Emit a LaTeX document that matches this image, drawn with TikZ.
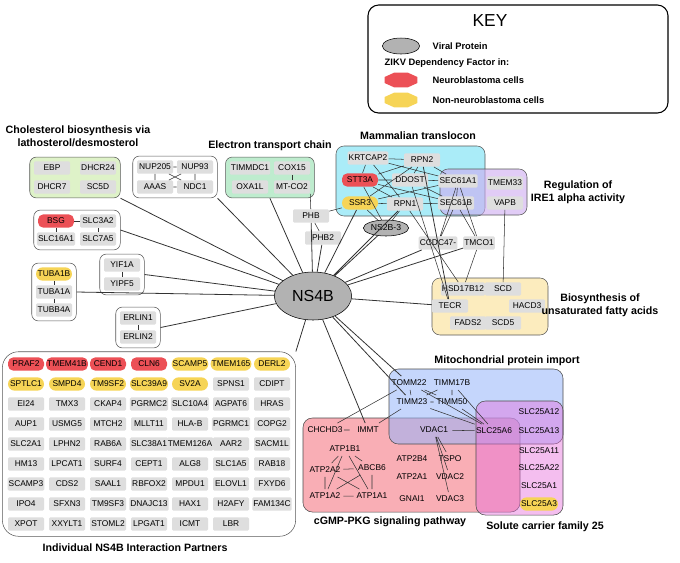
\documentclass[tikz,border=0pt]{standalone}
\usepackage{fontspec}
\setmainfont{Liberation Sans}
\usetikzlibrary{shapes.geometric,fit,backgrounds}
\definecolor{gfill}{RGB}{222,222,222}
\definecolor{vred}{RGB}{236,80,86}
\definecolor{vyel}{RGB}{246,212,86}
\definecolor{chol}{RGB}{222,242,200}
\definecolor{etc}{RGB}{190,236,206}
\definecolor{tloc}{RGB}{170,236,248}
\definecolor{ire}{RGB}{205,170,240}
\definecolor{fat}{RGB}{252,236,190}
\definecolor{mito}{RGB}{150,180,250}
\definecolor{cgmp}{RGB}{246,140,150}
\definecolor{slc}{RGB}{230,110,220}
\tikzset{
  gn/.style={fill=gfill,rounded corners=1pt,minimum width=27pt,minimum height=10pt,inner sep=0.8pt,font=\fontsize{6.3}{7}\selectfont},
  gred/.style={gn,fill=vred,rounded corners=4pt},
  gyel/.style={gn,fill=vyel,rounded corners=5pt},
  grp/.style={draw=gray!70!black,rounded corners=5pt,inner sep=3pt},
  ttl/.style={font=\bfseries\fontsize{8}{9.5}\selectfont,align=center},
  ed/.style={draw=black!80,thin},
  es/.style={draw=black!80,line width=0.6pt}
}
\begin{document}
\begin{tikzpicture}[x=0.75pt,y=-0.75pt]
\useasboundingbox (0,0) rectangle (680,562);
% key
\draw[rounded corners=8pt,thick] (368,5) rectangle (668,113);
\node[font=\fontsize{13}{14}\selectfont] (kt) at (490,21) {KEY};
\node[ellipse,draw,fill=gray!60,minimum width=28pt,minimum height=12pt] (kv) at (401,46) {};
\node[anchor=west,font=\bfseries\fontsize{7}{8}\selectfont] (kvt) at (428,46) {Viral Protein};
\node[anchor=west,font=\bfseries\fontsize{7}{8}\selectfont] (kz) at (380,63) {ZIKV Dependency Factor in:};
\node[regular polygon,regular polygon sides=8,fill=vred,minimum size=12pt,xscale=2.2,inner sep=0pt] (kr) at (401,80) {};
\node[anchor=west,font=\bfseries\fontsize{7}{8}\selectfont] (krt) at (428,80) {Neuroblastoma cells};
\node[regular polygon,regular polygon sides=8,fill=vyel,minimum size=12pt,xscale=2.2,inner sep=0pt] (ky) at (401,100) {};
\node[anchor=west,font=\bfseries\fontsize{7}{8}\selectfont] (kyt) at (428,100) {Non-neuroblastoma cells};

% NS4B
\node[ellipse,draw,fill=gray!60,minimum width=58pt,minimum height=36pt,font=\fontsize{12}{13}\selectfont] (ns4b) at (313,296) {NS4B};

% cholesterol
\node[ttl] (tchol) at (78,136) {Cholesterol biosynthesis via\\lathosterol/desmosterol};
\node[gn] (EBP) at (52,168) {EBP};
\node[gn] (DHCR24) at (98,168) {DHCR24};
\node[gn] (DHCR7) at (52,187) {DHCR7};
\node[gn] (SC5D) at (98,187) {SC5D};
\begin{scope}[on background layer]
\node[grp,fill=chol,fit=(EBP)(SC5D)] (bchol) {};
\end{scope}
% NUP
\node[gn] (NUP205) at (155,167) {NUP205};
\node[gn] (NUP93) at (195,167) {NUP93};
\node[gn] (AAAS) at (155,187) {AAAS};
\node[gn] (NDC1) at (195,187) {NDC1};
\begin{scope}[on background layer]
\node[grp,fill=white,fit=(NUP205)(NDC1)] (bnup) {};
\end{scope}
\draw[ed] (NUP205)--(NUP93) (NUP205)--(AAAS) (NUP93)--(NDC1) (AAAS)--(NDC1) (NUP205)--(NDC1) (NUP93)--(AAAS);
% electron transport
\node[ttl] (tetc) at (270,146) {Electron transport chain};
\node[gn] (TIMMDC1) at (250,168) {TIMMDC1};
\node[gn] (COX15) at (292,168) {COX15};
\node[gn] (OXA1L) at (250,187) {OXA1L};
\node[gn] (MT-CO2) at (292,187) {MT-CO2};
\begin{scope}[on background layer]
\node[grp,fill=etc,fit=(TIMMDC1)(MT-CO2)] (betc) {};
\end{scope}
\draw[ed] (COX15)--(MT-CO2);
\node[gn] (PHB) at (311,216) {PHB};
\node[gn] (PHB2) at (323,238) {PHB2};
\draw[ed] (MT-CO2.south east)--(PHB) (PHB)--(PHB2);
% BSG
\node[gred] (BSG) at (56,221) {BSG};
\node[gn] (SLC3A2) at (98,221) {SLC3A2};
\node[gn] (SLC16A1) at (56,239) {SLC16A1};
\node[gn] (SLC7A5) at (98,239) {SLC7A5};
\begin{scope}[on background layer]
\node[grp,fill=white,fit=(BSG)(SLC7A5)] (bbsg) {};
\end{scope}
\draw[ed] (BSG)--(SLC3A2) (BSG)--(SLC16A1) (SLC3A2)--(SLC7A5);
% YIF1A
\node[gn] (YIF1A) at (122,265) {YIF1A};
\node[gn] (YIPF5) at (122,284) {YIPF5};
\begin{scope}[on background layer]
\node[grp,fill=white,fit=(YIF1A)(YIPF5)] (byif) {};
\end{scope}
\draw[ed] (YIF1A)--(YIPF5);
% TUBA
\node[gyel] (TUBA1B) at (54,274) {TUBA1B};
\node[gn] (TUBA1A) at (54,292) {TUBA1A};
\node[gn] (TUBB4A) at (54,310) {TUBB4A};
\begin{scope}[on background layer]
\node[grp,fill=white,fit=(TUBA1B)(TUBB4A)] (btub) {};
\end{scope}
\draw[ed] (TUBA1B)--(TUBA1A)--(TUBB4A);
% ERLIN
\node[gn] (ERLIN1) at (138,318) {ERLIN1};
\node[gn] (ERLIN2) at (138,337) {ERLIN2};
\begin{scope}[on background layer]
\node[grp,fill=white,fit=(ERLIN1)(ERLIN2)] (berl) {};
\end{scope}
\draw[ed] (ERLIN1)--(ERLIN2);

% individual partners
\foreach \t [count=\i from 0] in {PRAF2,TMEM41B,CEND1,CLN6}
  \node[gred] (ip\i) at (26+41*\i,364) {\t};
\foreach \t [count=\i from 4] in {SCAMP5,TMEM165,DERL2}
  \node[gyel] (ip\i) at (26+41*\i,364) {\t};
\foreach \t [count=\i from 0] in {SPTLC1,SMPD4,TM9SF2,SLC39A9,SV2A}
  \node[gyel] (iq\i) at (26+41*\i,384) {\t};
\node[gn] (SPNS1) at (231,384) {SPNS1};
\node[gn] (CDIPT) at (272,384) {CDIPT};
\foreach \row [count=\j from 0] in {
  {EI24,TMX3,CKAP4,PGRMC2,SLC10A4,AGPAT6,HRAS},
  {AUP1,USMG5,MTCH2,MLLT11,HLA-B,PGRMC1,COPG2},
  {SLC2A1,LPHN2,RAB6A,SLC38A1,TMEM126A,AAR2,SACM1L},
  {HM13,LPCAT1,SURF4,CEPT1,ALG8,SLC1A5,RAB18},
  {SCAMP3,CDS2,SAAL1,RBFOX2,MPDU1,ELOVL1,FXYD6},
  {IPO4,SFXN3,TM9SF3,DNAJC13,HAX1,H2AFY,FAM134C},
  {XPOT,XXYLT1,STOML2,LPGAT1,ICMT,LBR}}
  \foreach \t [count=\i from 0] in \row
    \node[gn] (in-\j-\i) at (26+41*\i,404+20*\j) {\t};
\begin{scope}[on background layer]
\node[grp,fill=white,rounded corners=12pt,fit=(ip0)(in-6-0)(ip6),inner sep=4pt] (bind) {};
\end{scope}
\node[ttl] (tind) at (135,548) {Individual NS4B Interaction Partners};

% translocon / IRE1
\node[ttl] (ttloc) at (418,136) {Mammalian translocon};
\node[gn] (KRTCAP2) at (368,158) {KRTCAP2};
\node[gn] (RPN2) at (422,160) {RPN2};
\node[gred] (STT3A) at (360,180) {STT3A};
\node[gn] (DDOST) at (410,180) {DDOST};
\node[gn] (SEC61A1) at (458,181) {SEC61A1};
\node[gyel] (SSR3) at (360,203) {SSR3};
\node[gn] (RPN1) at (405,204) {RPN1};
\node[gn] (SEC61B) at (456,203) {SEC61B};
\node[gn] (TMEM33) at (505,183) {TMEM33};
\node[gn] (VAPB) at (505,203) {VAPB};
\node[ttl] (tire) at (578,192) {Regulation of\\IRE1 alpha activity};
\begin{scope}[on background layer]
\fill[tloc,rounded corners=6pt,draw=gray!70!black] (336,146) rectangle (485,216);
\fill[ire,fill opacity=0.6,rounded corners=6pt,draw=gray!70!black] (440,169) rectangle (527,215);
\end{scope}
\node[ellipse,draw,fill=gray!60,minimum width=34pt,minimum height=12pt,inner sep=0pt,font=\fontsize{6.5}{7}\selectfont] (NS2B-3) at (386,228) {NS2B-3};
\node[gn,minimum width=0pt,fill=gfill] (CCDC47) at (438,243) {CCDC47-};
\node[gn,minimum width=0pt] (TMCO1) at (479,243) {TMCO1};
\draw[ed] (KRTCAP2)--(RPN2) (KRTCAP2)--(STT3A) (KRTCAP2)--(SEC61A1) (KRTCAP2)--(RPN1)
  (RPN2)--(STT3A) (RPN2)--(DDOST) (RPN2)--(SEC61A1) (RPN2)--(SSR3)
  (STT3A)--(DDOST) (STT3A)--(SEC61B) (STT3A)--(RPN1) (DDOST)--(SEC61A1) (DDOST)--(SEC61B)
  (SSR3)--(RPN1) (SSR3)--(SEC61A1) (RPN1)--(SEC61B) (SSR3)--(NS2B-3) (STT3A)--(NS2B-3)
  (RPN1)--(NS2B-3) (SEC61A1)--(SEC61B) (SEC61A1)--(CCDC47) (SEC61B)--(CCDC47)
  (SEC61A1)--(TMCO1) (SEC61B)--(TMCO1) (SSR3)--(PHB);
% fatty acids
\node[gn] (HSD17B12) at (463,289) {HSD17B12};
\node[gn] (SCD) at (503,289) {SCD};
\node[gn] (TECR) at (450,306) {TECR};
\node[gn] (HACD3) at (527,306) {HACD3};
\node[gn] (FADS2) at (468,323) {FADS2};
\node[gn] (SCD5) at (503,323) {SCD5};
\begin{scope}[on background layer]
\fill[fat,rounded corners=6pt,draw=gray!70!black] (432,278) rectangle (548,335);
\end{scope}
\node[ttl] (tfat) at (600,305) {Biosynthesis of\\unsaturated fatty acids};
\draw[ed] (TMCO1)--(HSD17B12) (VAPB)--(SCD) (DDOST)--(TECR) (RPN1)--(HSD17B12);
\draw[es] (RPN2)--(TECR);

% mito / cGMP / SLC25
\node[ttl] (tmito) at (507,361) {Mitochondrial protein import};
\node[ttl] (tcgmp) at (390,522) {cGMP-PKG signaling pathway};
\node[ttl] (tslc) at (545,527) {Solute carrier family 25};
\begin{scope}[on background layer]
\fill[cgmp,fill opacity=0.7,rounded corners=7pt,draw=gray!60!black] (303,418) rectangle (520,512);
\fill[mito,fill opacity=0.55,rounded corners=7pt,draw=gray!60!black] (389,369) rectangle (563,444);
\fill[slc,fill opacity=0.45,rounded corners=7pt,draw=gray!60!black] (476,401) rectangle (563,515);
\end{scope}
\node[gn,fill=none] (TOMM22) at (409,383) {TOMM22};
\node[gn,fill=none] (TIMM17B) at (452,383) {TIMM17B};
\node[gn,fill=none] (TIMM23) at (412,402) {TIMM23};
\node[gn,fill=none] (TIMM50) at (452,402) {TIMM50};
\node[gn,fill=none] (VDAC1) at (434,430) {VDAC1};
\node[gn,fill=none] (SLC25A6) at (494,431) {SLC25A6};
\node[gn,fill=none] (CHCHD3) at (325,430) {CHCHD3};
\node[gn,fill=none] (IMMT) at (368,430) {IMMT};
\node[gn,fill=none] (ATP1B1) at (345,449) {ATP1B1};
\node[gn,fill=none] (ATP2A2) at (325,470) {ATP2A2};
\node[gn,fill=none] (ABCB6) at (372,468) {ABCB6};
\node[gn,fill=none] (ATP1A2) at (325,496) {ATP1A2};
\node[gn,fill=none] (ATP1A1) at (372,496) {ATP1A1};
\node[gn,fill=none] (ATP2B4) at (412,459) {ATP2B4};
\node[gn,fill=none] (ATP2A1) at (412,477) {ATP2A1};
\node[gn,fill=none] (GNAI1) at (412,499) {GNAI1};
\node[gn,fill=none] (TSPO) at (450,459) {TSPO};
\node[gn,fill=none] (VDAC2) at (450,477) {VDAC2};
\node[gn,fill=none] (VDAC3) at (450,499) {VDAC3};
\foreach \t/\yy in {SLC25A12/412,SLC25A13/431,SLC25A11/451,SLC25A22/468,SLC25A1/486}
  \node[gn,fill=none] (\t) at (539,\yy) {\t};
\node[gyel] (SLC25A3) at (539,504) {SLC25A3};
\draw[ed] (TOMM22)--(TIMM23) (TOMM22)--(TIMM50) (TIMM17B)--(TIMM23) (TIMM17B)--(TIMM50)
  (TIMM23)--(TIMM50) (TOMM22)--(CHCHD3) (TIMM23)--(IMMT) (TIMM23)--(SLC25A6)
  (TOMM22)--(SLC25A6) (TIMM17B)--(SLC25A6) (TIMM50)--(SLC25A6) (VDAC1)--(SLC25A6)
  (CHCHD3)--(IMMT) (VDAC1)--(TSPO) (VDAC1)--(VDAC2) (VDAC1)--(VDAC3)
  (ATP1B1)--(ATP2A2) (ATP1B1)--(ABCB6) (ATP1B1)--(ATP1A2) (ATP1B1)--(ATP1A1)
  (ATP2A2)--(ABCB6) (ATP2A2)--(ATP1A2) (ATP2A2)--(ATP1A1) (ABCB6)--(ATP1A2)
  (ABCB6)--(ATP1A1) (ATP1A2)--(ATP1A1);

% NS4B connectors
\draw[es] (ns4b)--(bchol.south east) (ns4b)--(bnup.south east) (ns4b)--(betc.south)
  (ns4b)--(bbsg.east) (ns4b)--(byif.east) (ns4b)--(btub.east) (ns4b)--(berl.east)
  (ns4b)--(bind.north east) (ns4b)--(PHB) (ns4b)--(PHB2) (ns4b)--(NS2B-3)
  (ns4b)--(SSR3) (ns4b)--(RPN1) (ns4b)--(CCDC47) (ns4b)--(TMCO1) (ns4b)--(TECR)
  (ns4b)--(TOMM22) (ns4b)--(IMMT) (ns4b)--(TIMM23);
\end{tikzpicture}
\end{document}
